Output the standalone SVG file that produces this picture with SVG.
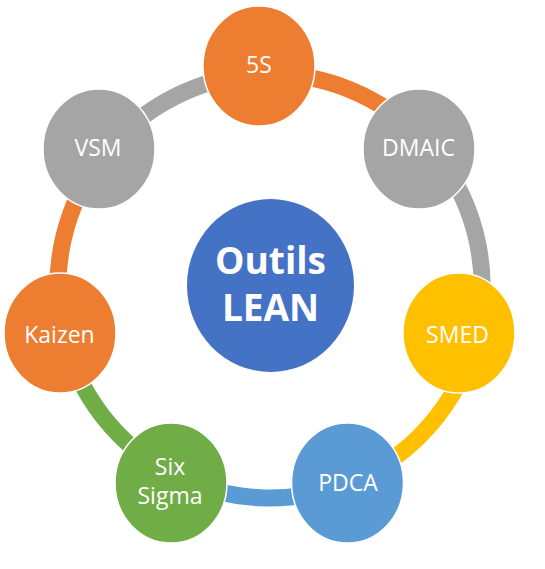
<svg xmlns="http://www.w3.org/2000/svg" width="545" height="569" viewBox="0 0 545 569">
<style>
.band{fill:none;stroke-width:17}
.node{stroke:#fff;stroke-width:1.5}
.lbl{font-family:"Open Sans","Liberation Sans",sans-serif;font-size:23px;fill:#fff;text-anchor:middle}
.title{font-family:"Open Sans","Liberation Sans",sans-serif;font-size:37px;font-weight:bold;fill:#fff;text-anchor:middle}
</style>
<rect width="545" height="569" fill="#fff"/>
<g id="connectors">
<path class="band" stroke="#ED7D31" d="M259.3,74.3 A212,212 0 0 1 426.1,142.5"/>
<path class="band" stroke="#A5A5A5" d="M426.1,142.5 A212,212 0 0 1 475.7,337.3"/>
<path class="band" stroke="#FFC000" d="M475.7,337.3 A212,212 0 0 1 347.7,483.2"/>
<path class="band" stroke="#5B9BD5" d="M347.7,483.2 A212,212 0 0 1 174.7,475.4"/>
<path class="band" stroke="#70AD47" d="M174.7,475.4 A212,212 0 0 1 63.1,332.2"/>
<path class="band" stroke="#ED7D31" d="M63.1,332.2 A212,212 0 0 1 104.6,153.5"/>
<path class="band" stroke="#A5A5A5" d="M104.6,153.5 A212,212 0 0 1 259.3,74.3"/>
</g>
<g id="center">
<ellipse cx="270.5" cy="285.5" rx="83.5" ry="86.5" fill="#4472C4"/>
<text class="title" x="270.5" y="274">Outils</text>
<text class="title" x="270.5" y="321">LEAN</text>
</g>
<g id="n5s">
<ellipse class="node" cx="259" cy="66" rx="56" ry="60" fill="#ED7D31"/>
<text class="lbl" x="259" y="73">5S</text>
</g>
<g id="dmaic">
<ellipse class="node" cx="419" cy="149" rx="56" ry="60" fill="#A5A5A5"/>
<text class="lbl" x="418.5" y="156">DMAIC</text>
</g>
<g id="smed">
<ellipse class="node" cx="459" cy="333" rx="56" ry="60" fill="#FFC000"/>
<text class="lbl" x="457.5" y="343">SMED</text>
</g>
<g id="pdca">
<ellipse class="node" cx="347.5" cy="483" rx="56" ry="60" fill="#5B9BD5"/>
<text class="lbl" x="348" y="491">PDCA</text>
</g>
<g id="sixsigma">
<ellipse class="node" cx="171" cy="483" rx="56" ry="60" fill="#70AD47"/>
<text class="lbl" x="170" y="475">Six</text>
<text class="lbl" x="170" y="504">Sigma</text>
</g>
<g id="kaizen">
<ellipse class="node" cx="60" cy="333" rx="56" ry="60" fill="#ED7D31"/>
<text class="lbl" x="59.5" y="343">Kaizen</text>
</g>
<g id="vsm">
<ellipse class="node" cx="99" cy="149" rx="56" ry="60" fill="#A5A5A5"/>
<text class="lbl" x="98" y="156">VSM</text>
</g>
</svg>
